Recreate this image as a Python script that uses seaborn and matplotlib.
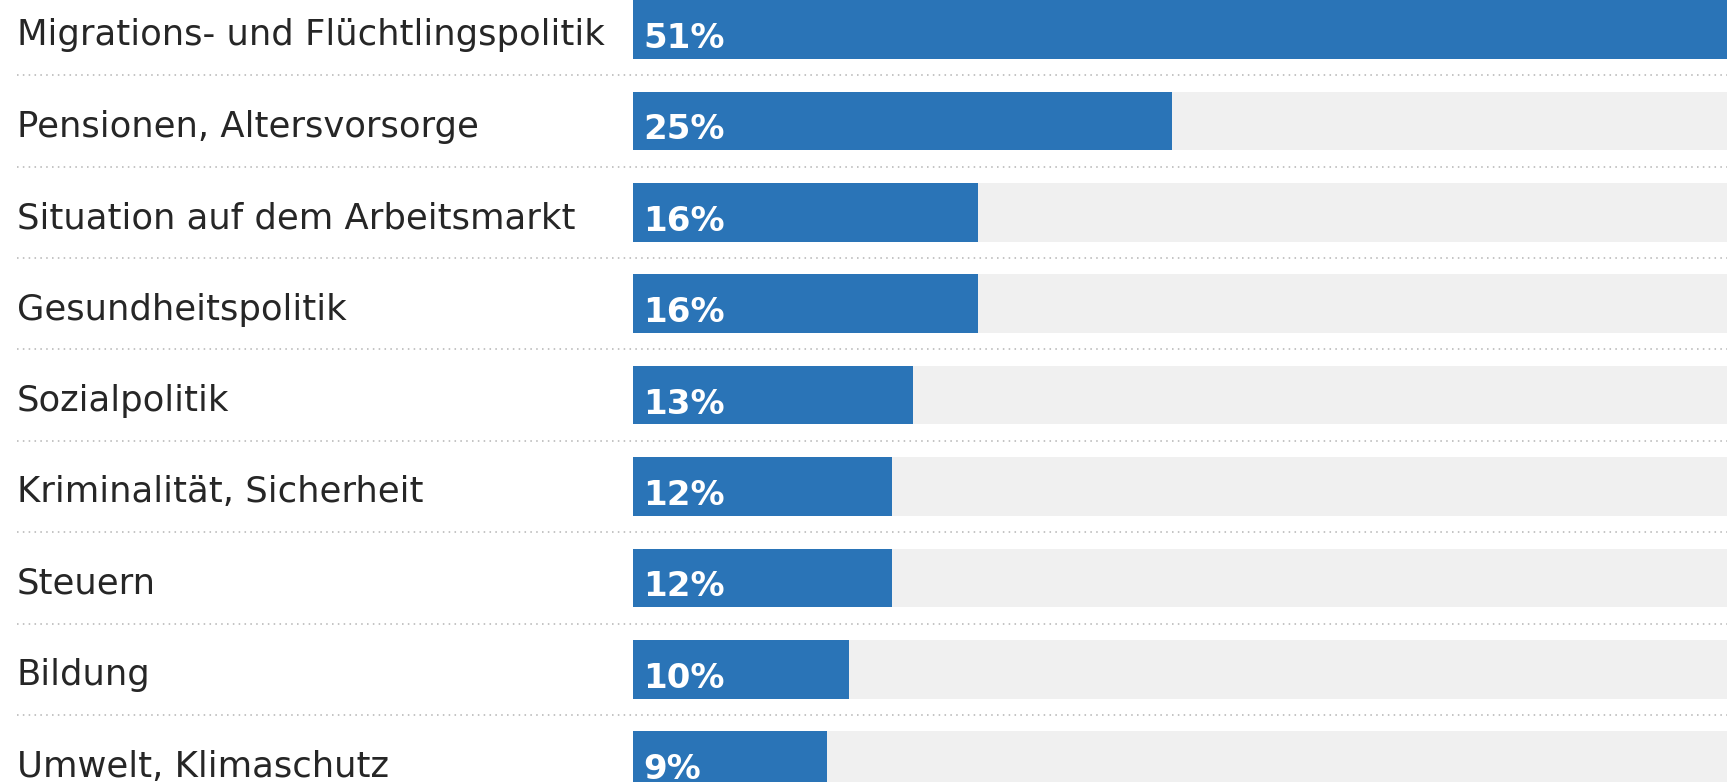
import matplotlib
matplotlib.use("Agg")
import matplotlib.pyplot as plt
import matplotlib.transforms as mtransforms
from matplotlib.lines import Line2D
import seaborn as sns
import pandas as pd

categories = [
    "Migrations- und Flüchtlingspolitik",
    "Pensionen, Altersvorsorge",
    "Situation auf dem Arbeitsmarkt",
    "Gesundheitspolitik",
    "Sozialpolitik",
    "Kriminalität, Sicherheit",
    "Steuern",
    "Bildung",
    "Umwelt, Klimaschutz",
]
values = [51, 25, 16, 16, 13, 12, 12, 10, 9]
track_max = 100

BLUE = "#2a74b7"
TRACK = "#f0f0f0"
TEXT = "#262626"
DOT = "#c4c4c4"

sns.set_theme(style="white")
plt.rcParams["font.family"] = ["DejaVu Sans"]

W, H, DPI = 1727, 782, 100
fig = plt.figure(figsize=(W / DPI, H / DPI), dpi=DPI)
fig.patch.set_facecolor("white")
left = 633 / W
ax = fig.add_axes([left, 0, 1 - left, 1])
ax.set_facecolor("white")

df = pd.DataFrame({"Thema": categories, "Wert": values, "Track": [track_max] * len(values)})

bar_h = 0.64
sns.barplot(data=df, y="Thema", x="Track", color=TRACK, width=bar_h,
            saturation=1, ax=ax, orient="h", linewidth=0)
sns.barplot(data=df, y="Thema", x="Wert", color=BLUE, width=bar_h,
            saturation=1, ax=ax, orient="h", linewidth=0)

pitch = 91.4
top_c = 29.5
ax.set_xlim(0, 50.75)
ax.set_ylim((H - top_c) / pitch, -top_c / pitch)

for s in ax.spines.values():
    s.set_visible(False)
ax.set_xlabel("")
ax.set_ylabel("")
ax.set_xticks([])

# category labels as y tick labels, left aligned at x = 17 px
ax.tick_params(axis="y", length=0, pad=(633 - 17) * 72 / DPI, labelsize=25.5,
               labelcolor=TEXT)
for lab in ax.get_yticklabels():
    lab.set_horizontalalignment("left")
    lab.set_verticalalignment("center")
    lab.set_transform(lab.get_transform() + mtransforms.ScaledTranslation(0, -6 / DPI, fig.dpi_scale_trans))

# value labels inside bars
for i, v in enumerate(values):
    ax.annotate(f"{v}%", xy=(0, i), xytext=(10 * 72 / DPI, -9 * 72 / DPI),
                textcoords="offset points", ha="left", va="center",
                color="white", fontsize=24.5, fontweight="bold")

# dotted separators
trans = mtransforms.blended_transform_factory(fig.transFigure, ax.transData)
for i in range(len(values) - 1):
    ln = Line2D([17 / W, 1.0], [i + 0.5, i + 0.5], transform=trans,
                color=DOT, linewidth=1.4, linestyle=(0, (0.8, 2.2)),
                clip_on=False)
    fig.add_artist(ln)

fig.savefig("out.png", dpi=DPI, facecolor="white")
